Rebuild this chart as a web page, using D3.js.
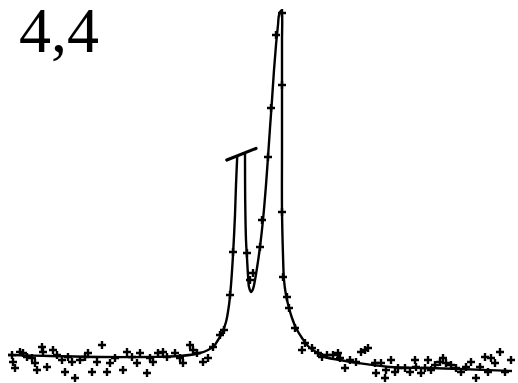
<!DOCTYPE html>
<html>
<head>
<meta charset="utf-8">
<script src="https://cdn.jsdelivr.net/npm/d3@7/dist/d3.min.js"></script>
<style>
  html, body { margin: 0; padding: 0; background: #fff; }
  svg { display: block; }
</style>
</head>
<body>
<script>
// Spectrum label
const panelLabel = "4,4";

// Measured counts per channel (+ markers)
const pointChannel = [
  2, 2.25, 2.75, 4, 4.75, 5.75, 7, 7.75, 8.25, 9.5, 9.75, 10.75, 12.25, 13.25, 14.5, 15.25,
  16, 17, 17.75, 19, 20.25, 21, 22, 23.25, 24.5, 25.75, 26.5, 27.75, 29.75, 30.75, 32, 33.25,
  34, 35.75, 36.5, 37.25, 38.5, 39.75, 40.75, 42.75, 44, 44.75, 46.5, 47.25, 48.25, 49.75,
  51, 52.25, 54, 55, 56.5, 57.25, 60.75, 61.5, 62.25, 64, 64.5, 66, 66.75, 68, 69.5, 69.5,
  69.5, 69.75, 70.75, 71.25, 72.75, 74.5, 75.25, 77, 78.5, 79.5, 80.75, 82.25, 83.5, 84,
  85.25, 86.5, 88, 89.25, 90.25, 91, 92.75, 93, 94.25, 95.25, 95.5, 96.75, 97.75, 98.5,
  100.25, 101.5, 102.75, 103, 104.25, 105.25, 106, 106.75, 107.75, 109, 109.75, 110.5,
  111.75, 113, 114.25, 115.5, 116.75, 118, 119, 120.25, 121, 121.75, 122.75, 124, 125.25, 126.75
];
const pointCounts = [
  12.5, 9, 6, 14, 13.5, 11.5, 11, 8.5, 5, 16.5, 14, 6.5, 15, 12.5, 10, 4,
  11.5, 9, 1, 10, 11.5, 13.5, 4, 9, 17.5, 4, 8.5, 11, 5, 14, 11.5, 8.5,
  13.5, 3.5, 11, 9, 13.5, 14, 11.5, 13.5, 11, 8.5, 17.5, 15, 13.5, 9,
  11, 16.5, 22.5, 25, 42.5, 64, 63.5, 50, 53.5, 66.5, 80, 111.5, 136, 172.5, 183.5, 147.5,
  84, 51.5, 41.5, 36, 26, 15, 18.5, 16, 13.5, 11.5, 12.5, 12.5, 13.5, 11,
  6, 10, 9, 14, 15, 16, 8.5, 3.5, 8.5, 1, 5, 10, 4, 6,
  6, 4, 10, 6.5, 3.5, 6, 10, 5, 7.5, 9, 11, 8.5,
  7.5, 6, 4, 6.5, 9, 1, 6.5, 11.5, 4, 11, 8.5, 14, 4, 10
];

// Fitted curve, left flank up to the cut-off bar
const fitLeftChannel = [
  1, 11.5, 24, 36.5, 44, 49, 51, 52.5, 53.5, 54.5, 55.5, 56.25, 56.75, 57.25, 57.75, 58, 58.3
];
const fitLeftCounts = [
  12.5, 12, 11.5, 11.5, 12, 13.5, 15, 17, 20, 23.5, 29, 37.5, 47.5, 62.5, 82.5, 97.5, 111.5
];
// Fitted curve, from the cut-off bar through the main peak to the right
const fitRightChannel = [
  60.25, 60.3, 60.5, 60.75, 61, 61.25, 61.75, 62.25, 62.75, 63.25, 64, 64.75, 65.5, 66, 66.5,
  67, 67.5, 68, 68.5, 68.75, 69.25, 69.5, 69.5, 69.5, 69.5, 69.5, 69.75, 70, 70.5, 71.25, 72,
  73, 74.5, 76, 78, 80.25, 84, 88.5, 96.5, 105.25, 114, 127
];
const fitRightCounts = [
  113, 90, 70, 61, 52.5, 46.5, 44, 45.5, 50, 56, 66.5, 80, 97.5, 111.5, 126,
  140, 155, 167.5, 177.5, 182.5, 184.5, 182.5, 170, 147.5, 115, 85, 62.5, 50, 42.5, 36, 31,
  26, 21, 17, 14, 11.5, 10, 8.5, 6.5, 6, 5.5, 4.5
];

// Cut-off bar over the truncated left peak
const barChannel = [55.7, 63];
const barCounts = [110, 115.8];

const W = 518, H = 383;
const svg = d3.select("body").append("svg").attr("width", W).attr("height", H);

const x = d3.scaleLinear().domain([0, 128]).range([4, 516]);
const y = d3.scaleLinear().domain([0, 190]).range([380, 0]);

const curveLine = d3.line()
  .x(d => x(d[0])).y(d => y(d[1]))
  .curve(d3.curveCatmullRom.alpha(0.5));

// fitted curve, two strokes meeting the bar
[[fitLeftChannel, fitLeftCounts], [fitRightChannel, fitRightCounts]].forEach(([cs, vs]) => {
  svg.append("path")
    .datum(cs.map((c, i) => [c, vs[i]]))
    .attr("fill", "none")
    .attr("stroke", "#000")
    .attr("stroke-width", 2.4)
    .attr("stroke-linejoin", "round")
    .attr("d", curveLine);
});

// cut-off bar
const bar = barChannel.map((c, i) => [c, barCounts[i]]);
svg.append("path")
  .datum(bar)
  .attr("fill", "none")
  .attr("stroke", "#000")
  .attr("stroke-width", 3.2)
  .attr("stroke-linecap", "round")
  .attr("d", d3.line().x(d => x(d[0])).y(d => y(d[1])));

// + markers
const pts = pointChannel.map((c, i) => [c, pointCounts[i]]);
const arm = 4;
svg.append("g")
  .selectAll("path")
  .data(pts)
  .join("path")
  .attr("fill", "none")
  .attr("stroke", "#000")
  .attr("stroke-width", 2.4)
  .attr("d", d => {
    const cx = x(d[0]), cy = y(d[1]);
    return `M${cx - arm},${cy}H${cx + arm}M${cx},${cy - arm}V${cy + arm}`;
  });

// label
svg.append("text")
  .attr("x", 19)
  .attr("y", 52)
  .attr("font-family", "Liberation Serif, serif")
  .attr("font-size", 64)
  .attr("fill", "#000")
  .text(panelLabel);
</script>
</body>
</html>
